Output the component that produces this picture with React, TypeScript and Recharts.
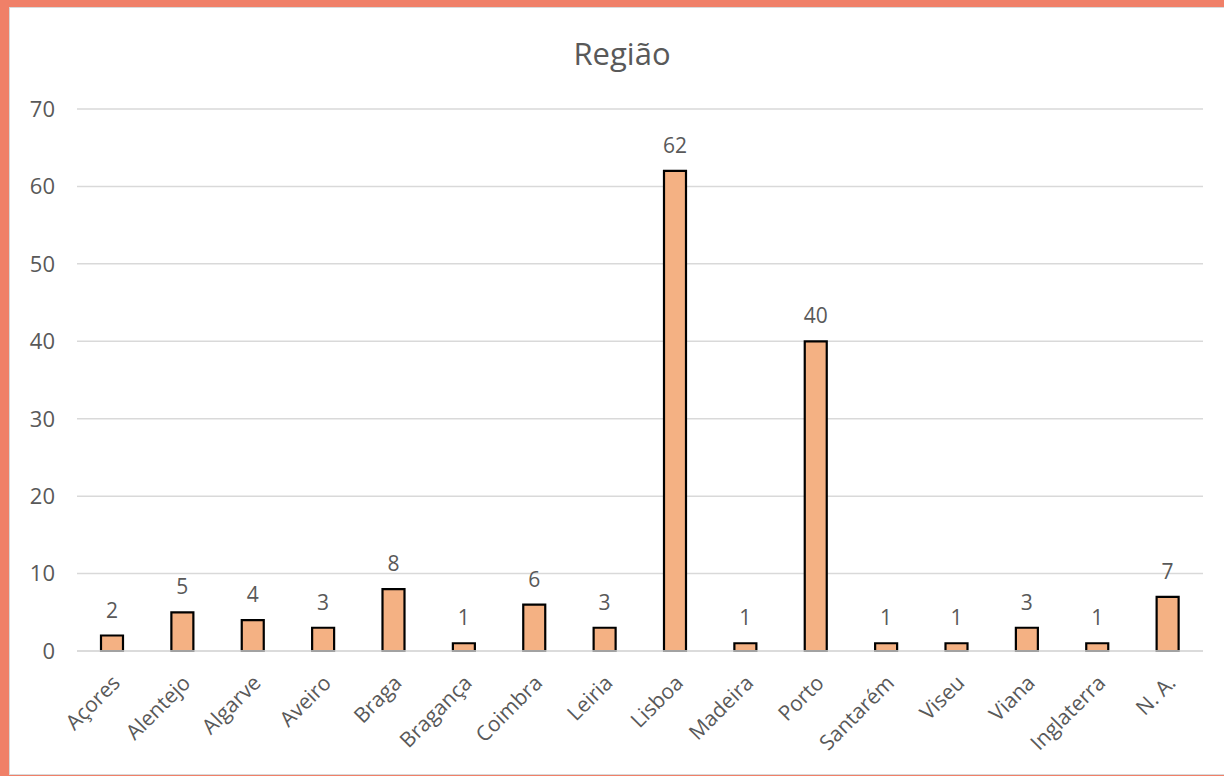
import React from 'react';
import { BarChart, Bar, XAxis, YAxis, CartesianGrid, LabelList } from 'recharts';

const categories = ['Açores', 'Alentejo', 'Algarve', 'Aveiro', 'Braga', 'Bragança', 'Coimbra', 'Leiria', 'Lisboa', 'Madeira', 'Porto', 'Santarém', 'Viseu', 'Viana', 'Inglaterra', 'N. A.'];
const values = [2, 5, 4, 3, 8, 1, 6, 3, 62, 1, 40, 1, 1, 3, 1, 7];
const yTicks = [0, 10, 20, 30, 40, 50, 60, 70];
const title = 'Região';

const data = categories.map((c, i) => ({ name: c, value: values[i] }));

const FONT = '"Open Sans", sans-serif';

const XTick = (props: any) => {
  const { x, y, payload } = props;
  return (
    <g transform={`translate(${x + 4},${y + 28})`}>
      <text transform="rotate(-45)" textAnchor="end" dy="0.35em" fill="#595959" fontSize={21} fontFamily={FONT}>
        {payload.value}
      </text>
    </g>
  );
};

export default function App() {
  return (
    <div style={{ position: 'absolute', left: 0, top: 0, width: 1224, height: 776, background: '#F08068', overflow: 'hidden' }}>
      <div style={{ position: 'absolute', left: 9, top: 7, width: 1230, height: 766, background: '#ffffff', border: '1px solid #d9d9d9' }} />
      <div style={{ position: 'absolute', left: 0, top: 33, width: 1244, textAlign: 'center', fontFamily: FONT, fontSize: 31, lineHeight: '40px', color: '#595959' }}>
        {title}
      </div>
      <div style={{ position: 'absolute', left: 0, top: 0 }}>
        <BarChart width={1224} height={776} data={data} margin={{ top: 109, right: 21, left: 17, bottom: 25 }} barCategoryGap={0}>
          <CartesianGrid vertical={false} stroke="#d9d9d9" strokeWidth={1.5} />
          <XAxis
            dataKey="name"
            interval={0}
            tick={<XTick />}
            tickLine={false}
            tickSize={0}
            tickMargin={0}
            height={100}
            axisLine={{ stroke: '#d9d9d9', strokeWidth: 1.5 }}
          />
          <YAxis
            domain={[0, 70]}
            ticks={yTicks}
            width={60}
            axisLine={false}
            tickLine={false}
            tickSize={0}
            tickMargin={22}
            tick={{ fill: '#595959', fontSize: 22, fontFamily: FONT }}
          />
          <Bar dataKey="value" fill="#F4B183" stroke="#000000" strokeWidth={2.2} barSize={22} isAnimationActive={false}>
            <LabelList dataKey="value" position="top" offset={18} fill="#595959" fontSize={21} fontFamily={FONT} />
          </Bar>
        </BarChart>
      </div>
    </div>
  );
}
